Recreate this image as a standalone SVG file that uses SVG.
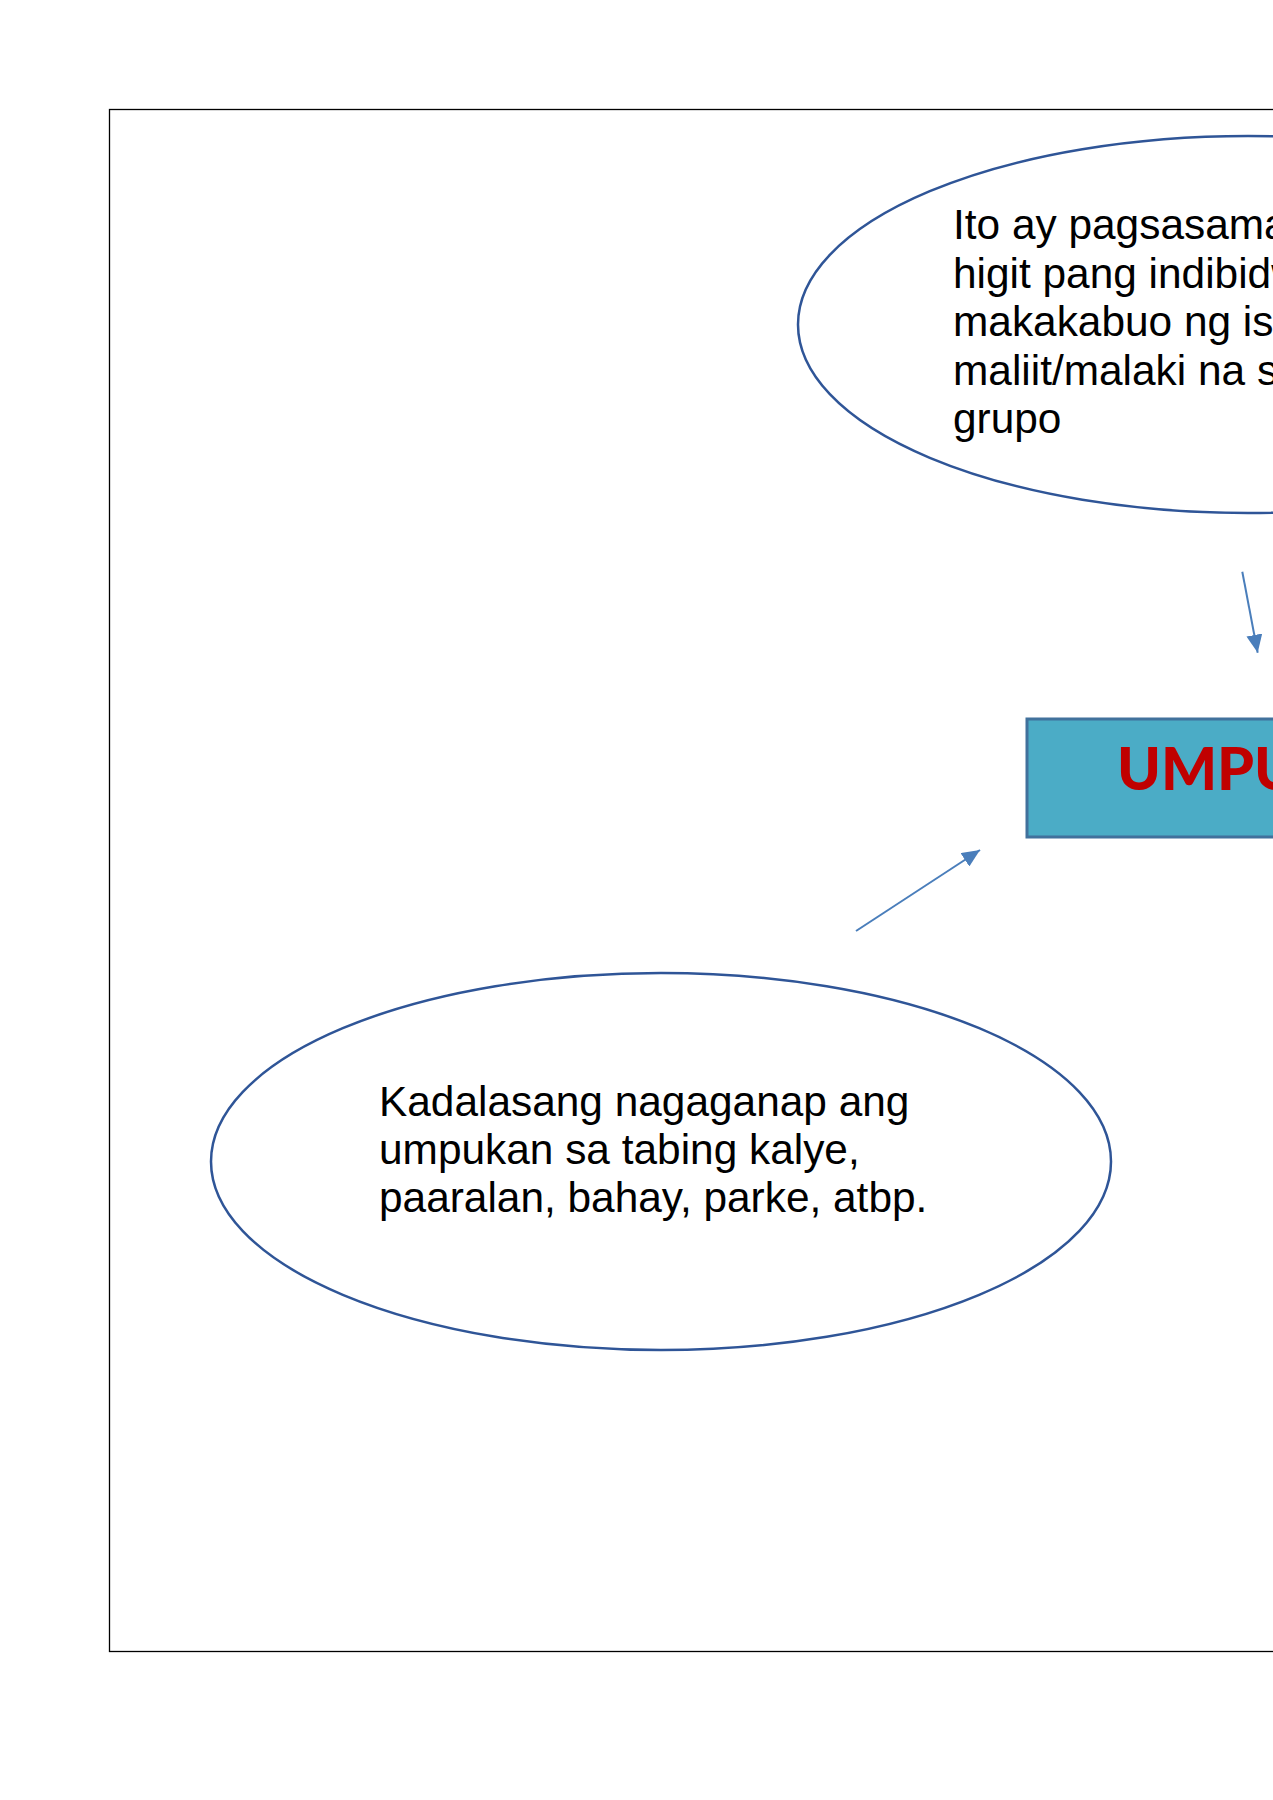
<svg xmlns="http://www.w3.org/2000/svg" width="1273" height="1800" viewBox="0 0 1273 1800">
<style>
.ell{fill:#fff;stroke:#2F5597;stroke-width:2.5}
.t{font-family:"Liberation Sans",Arial,sans-serif;font-size:42.4px;fill:#000}
.con{stroke:#4A7EBB;stroke-width:2;fill:none}
</style>
<defs>
<marker id="ah" markerWidth="18" markerHeight="16" refX="18" refY="8" orient="auto" markerUnits="userSpaceOnUse">
<path d="M0,0 L18,8 L0,16 z" fill="#4A7EBB"/>
</marker>
</defs>
<rect x="0" y="0" width="1273" height="1800" fill="#fff"/>
<rect id="frame" x="109.5" y="109.5" width="1300" height="1542" fill="none" stroke="#000" stroke-width="1.3"/>
<g id="node-top">
<ellipse class="ell" cx="1248" cy="324.5" rx="450" ry="188.5"/>
<text class="t"><tspan x="953" y="239">Ito ay pagsasama</tspan><tspan x="953" y="288">higit pang indibidw</tspan><tspan x="953" y="336">makakabuo ng is</tspan><tspan x="953" y="385">maliit/malaki na s</tspan><tspan x="953" y="433">grupo</tspan></text>
</g>
<g id="node-center">
<rect x="1027" y="719" width="400" height="118" fill="#4BACC6" stroke="#41719C" stroke-width="3"/>
<text x="1117" y="790" font-family="Lato,'Open Sans',sans-serif" font-weight="900" font-size="59" fill="#C00000">UMPUKAN</text>
</g>
<g id="node-bottom">
<ellipse class="ell" cx="661" cy="1161.5" rx="450" ry="188.5"/>
<text class="t"><tspan x="379" y="1116">Kadalasang nagaganap ang</tspan><tspan x="379" y="1164">umpukan sa tabing kalye,</tspan><tspan x="379" y="1212">paaralan, bahay, parke, atbp.</tspan></text>
</g>
<g id="connectors">
<line class="con" x1="1242.3" y1="571.7" x2="1257.7" y2="652.7" marker-end="url(#ah)"/>
<line class="con" x1="856" y1="931" x2="980" y2="850" marker-end="url(#ah)"/>
</g>
</svg>
